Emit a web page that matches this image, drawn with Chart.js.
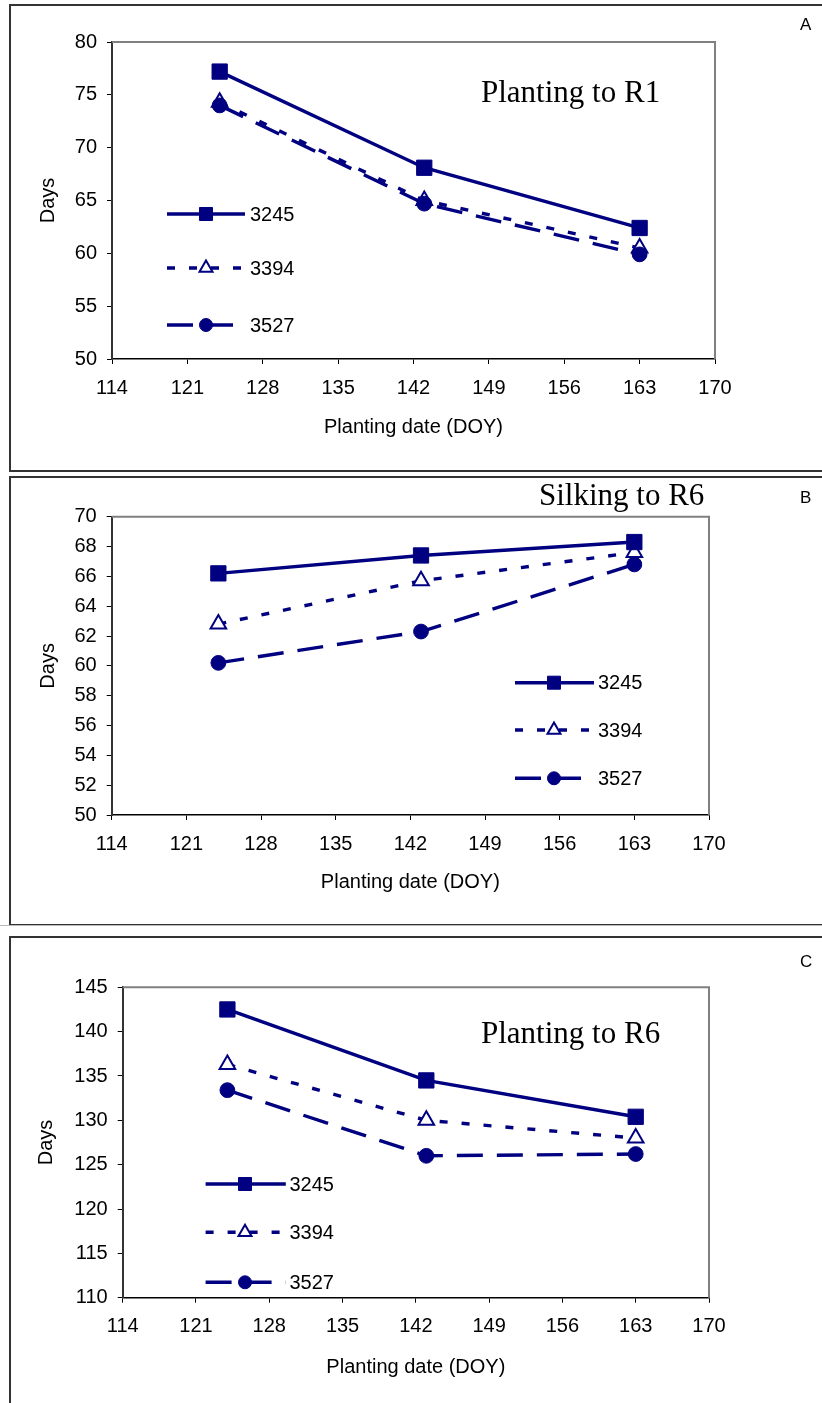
<!DOCTYPE html>
<html>
<head>
<meta charset="utf-8">
<script src="https://cdn.jsdelivr.net/npm/chart.js@4.4.0/dist/chart.umd.min.js"></script>
<style>
  body { margin: 0; background: #fff; width: 822px; height: 1403px; overflow: hidden; position: relative; }
  canvas { position: absolute; left: 0; }
  .box { position: absolute; left: 9px; width: 830px; border: 2px solid #333; border-right: none; box-sizing: border-box; }
</style>
</head>
<body>
<div class="box" style="top:4px;height:468px"></div>
<div class="box" style="top:476px;height:450px"></div>
<div style="position:absolute;left:0;top:925px;width:822px;height:1px;background:#bbb"></div>
<div class="box" style="top:936px;height:480px"></div>
<canvas id="panelA" width="822" height="472" style="top:0px"></canvas>
<canvas id="panelB" width="822" height="454" style="top:472px"></canvas>
<canvas id="panelC" width="822" height="477" style="top:926px"></canvas>
<script>
// planting dates (day of year) and hybrids
const plantingDOY = [124, 143, 163];
const hybrids = ['3245', '3394', '3527'];
const xTicks = [114, 121, 128, 135, 142, 149, 156, 163, 170];

// A: planting to R1 (days)
const r1_3245 = [77.2, 68.1, 62.4];
const r1_3394 = [74.3, 65.0, 60.5];
const r1_3527 = [74.0, 64.7, 59.9];

// B: silking to R6 (days)
const silkR6_3245 = [66.2, 67.4, 68.3];
const silkR6_3394 = [62.8, 65.7, 67.6];
const silkR6_3527 = [60.2, 62.3, 66.8];

// C: planting to R6 (days)
const r6_3245 = [142.5, 134.5, 130.4];
const r6_3394 = [136.3, 130.0, 128.0];
const r6_3527 = [133.4, 126.0, 126.2];

const navy = '#000080';
const sans = '"Liberation Sans", Arial, sans-serif';
const serif = '"Liberation Serif", "Times New Roman", serif';

function drawMarker(ctx, style, x, y, r, fill) {
  ctx.save();
  ctx.fillStyle = fill;
  ctx.strokeStyle = navy;
  ctx.lineWidth = style === 'triangle' ? 2 : 1;
  ctx.setLineDash([]);
  ctx.beginPath();
  if (style === 'rect') {
    const s = r * Math.SQRT1_2;
    ctx.rect(x - s, y - s, 2 * s, 2 * s);
  } else if (style === 'triangle') {
    ctx.moveTo(x, y - r);
    ctx.lineTo(x + r * 0.866, y + r * 0.5);
    ctx.lineTo(x - r * 0.866, y + r * 0.5);
    ctx.closePath();
  } else {
    ctx.arc(x, y, r, 0, Math.PI * 2);
  }
  ctx.fill();
  ctx.stroke();
  ctx.restore();
}

const panelDecor = {
  id: 'panelDecor',
  beforeDatasetsDraw(chart) {
    const { ctx, chartArea: a } = chart;
    ctx.save();
    ctx.strokeStyle = '#808080';
    ctx.lineWidth = 2;
    ctx.beginPath();
    ctx.moveTo(a.left, a.top);
    ctx.lineTo(a.right, a.top);
    ctx.lineTo(a.right, a.bottom);
    ctx.stroke();
    ctx.restore();
  },
  afterDraw(chart, args, o) {
    const ctx = chart.ctx;
    ctx.save();
    // panel title
    ctx.fillStyle = '#000';
    ctx.textBaseline = 'alphabetic';
    ctx.textAlign = 'left';
    ctx.font = '31px ' + serif;
    ctx.fillText(o.title, o.titleX, o.titleY);
    // panel letter
    ctx.font = '17px ' + sans;
    ctx.fillText(o.letter, 800, o.letterY);
    // legend inside the plot
    const lg = o.legend;
    chart.data.datasets.forEach((ds, i) => {
      const y = lg.rows[i];
      ctx.strokeStyle = ds.borderColor;
      ctx.lineWidth = ds.borderWidth;
      ctx.setLineDash(ds.borderDash || []);
      ctx.beginPath();
      ctx.moveTo(lg.x1, y);
      ctx.lineTo(lg.x2, y);
      ctx.stroke();
      const mr = ds.pointStyle === 'rect' ? 9.2 : ds.pointStyle === 'triangle' ? 7.5 : 6.5;
      drawMarker(ctx, ds.pointStyle, lg.xm, y, mr, ds.pointBackgroundColor);
      ctx.fillStyle = '#000';
      ctx.font = '20px ' + sans;
      ctx.textBaseline = 'middle';
      ctx.fillText(ds.label, lg.xt, y + 1);
    });
    ctx.restore();
  }
};

function series(label, values, style, dash, order) {
  return {
    label: label,
    data: plantingDOY.map((x, i) => ({ x: x, y: values[i] })),
    borderColor: navy,
    borderWidth: 3.4,
    borderDash: dash,
    tension: 0,
    fill: false,
    pointStyle: style,
    pointRadius: style === 'rect' ? 10.8 : style === 'triangle' ? 9 : 7.4,
    pointBackgroundColor: style === 'triangle' ? '#fff' : navy,
    pointBorderColor: navy,
    pointBorderWidth: style === 'triangle' ? 2 : 1,
    order: order
  };
}

function makePanel(id, p) {
  new Chart(document.getElementById(id), {
    type: 'line',
    data: {
      datasets: [
        series(hybrids[0], p.v1, 'rect', [], 0),
        series(hybrids[1], p.v2, 'triangle', [8, 14], 2),
        series(hybrids[2], p.v3, 'circle', [26, 14], 1)
      ]
    },
    options: {
      responsive: false,
      animation: false,
      devicePixelRatio: 1,
      layout: { padding: { left: 0, top: p.padTop, right: p.padRight, bottom: 0 } },
      plugins: {
        legend: { display: false },
        tooltip: { enabled: false },
        panelDecor: p.decor
      },
      scales: {
        x: {
          type: 'linear',
          min: 114,
          max: 170,
          afterBuildTicks: (s) => { s.ticks = xTicks.map(v => ({ value: v })); },
          afterFit: (s) => { s.height = p.xHeight; },
          grid: { drawOnChartArea: false, drawTicks: true, tickLength: 5, color: '#000', lineWidth: 1 },
          border: { color: '#000', width: 1.5 },
          ticks: { color: '#000', font: { family: sans, size: 20 }, padding: 12, maxRotation: 0, autoSkip: false },
          title: { display: true, text: 'Planting date (DOY)', color: '#000', font: { family: sans, size: 20 }, padding: { top: 0, bottom: p.xTitlePad } }
        },
        y: {
          min: p.yMin,
          max: p.yMax,
          afterFit: (s) => { s.width = p.yWidth; },
          grid: { drawOnChartArea: false, drawTicks: true, tickLength: 5, color: '#000', lineWidth: 1 },
          border: { color: '#333', width: 2 },
          ticks: { stepSize: p.yStep, color: '#000', font: { family: sans, size: 20 }, padding: 10 },
          title: { display: true, text: 'Days', color: '#000', font: { family: sans, size: 20 }, padding: { top: p.yTitlePad, bottom: 0 } }
        }
      }
    },
    plugins: [panelDecor]
  });
}

makePanel('panelA', {
  v1: r1_3245, v2: r1_3394, v3: r1_3527,
  yMin: 50, yMax: 80, yStep: 5,
  padTop: 42, padRight: 107, yWidth: 112, xHeight: 113, xTitlePad: 33, yTitlePad: 36,
  decor: {
    title: 'Planting to R1', titleX: 481, titleY: 102, letter: 'A', letterY: 30,
    legend: { x1: 167, x2: 245, xm: 206, xt: 250, rows: [214, 268, 325] }
  }
});

makePanel('panelB', {
  v1: silkR6_3245, v2: silkR6_3394, v3: silkR6_3527,
  yMin: 50, yMax: 70, yStep: 2,
  padTop: 44.7, padRight: 113, yWidth: 111.7, xHeight: 111, xTitlePad: 31.7, yTitlePad: 36,
  decor: {
    title: 'Silking to R6', titleX: 539, titleY: 33, letter: 'B', letterY: 31,
    legend: { x1: 515, x2: 594, xm: 554, xt: 598, rows: [210.7, 258, 306.3] }
  }
});

makePanel('panelC', {
  v1: r6_3245, v2: r6_3394, v3: r6_3527,
  yMin: 110, yMax: 145, yStep: 5,
  padTop: 61.3, padRight: 113, yWidth: 122.7, xHeight: 105.3, xTitlePad: 23.7, yTitlePad: 34.5,
  decor: {
    title: 'Planting to R6', titleX: 481, titleY: 117.3, letter: 'C', letterY: 41,
    legend: { x1: 205.6, x2: 285.8, xm: 245, xt: 289.5, rows: [258, 306.3, 356.3] }
  }
});
</script>
</body>
</html>
